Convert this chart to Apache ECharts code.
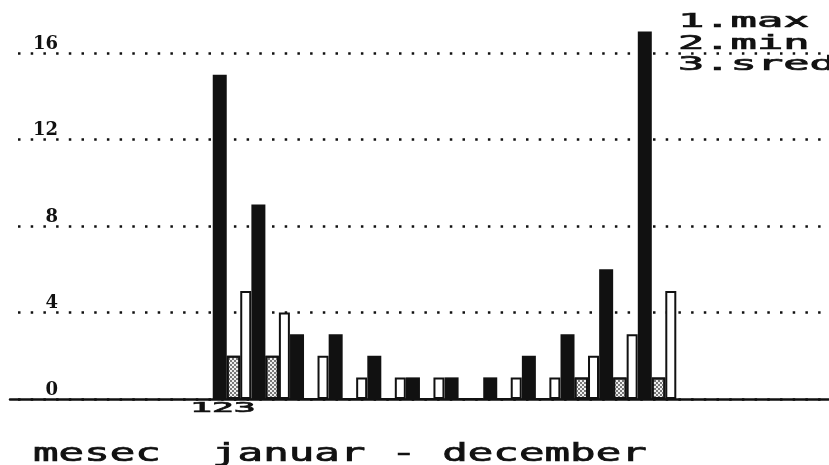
<!DOCTYPE html>
<html>
<head>
<meta charset="utf-8">
<script src="https://cdn.jsdelivr.net/npm/echarts@6/dist/echarts.min.js"></script>
<style>
  html, body { margin: 0; padding: 0; background: #fff; }
  #chart { width: 829px; height: 465px; }
</style>
</head>
<body>
<div id="chart"></div>
<script>
// monthly values, januar .. december
const months = [1, 2, 3, 4, 5, 6, 7, 8, 9, 10, 11, 12];
const maxValues = [15, 9, 3, 3, 2, 1, 1, 1, 2, 3, 6, 17];
const minValues = [2, 2, 0, 0, 0, 0, 0, 0, 0, 1, 1, 1];
const sredValues = [5, 4, 2, 1, 1, 1, 0, 1, 1, 2, 3, 5];

const yMax = 16;
const yStep = 4;
const legendLines = ["1.max", "2.min", "3.sred"];
const barNumbers = "123";
const footer = "mesec  januar - december";

const mono = "DejaVu Sans Mono";

let myChart = echarts.init(document.getElementById("chart"));

// pairs [month, value] for the value x axis
const toPoints = (values) => months.map((m, i) => [m, values[i]]);

// stretched "printer" text
function printText(text, x, y, size, stretch) {
  return {
    type: "text",
    x: x,
    y: y,
    scaleX: stretch,
    style: {
      text: text,
      x: 0,
      y: 0,
      fill: "#111",
      stroke: "#111",
      lineWidth: 0.7,
      font: size + "px '" + mono + "'",
      verticalAlign: "middle",
    },
  };
}

myChart.setOption({
  backgroundColor: "#fff",
  animation: false,
  grid: { left: 10, right: 0, top: 53, bottom: 66 },
  xAxis: {
    type: "value",
    min: -4.745,
    max: 16.45,
    axisLine: { show: true, lineStyle: { color: "#111", width: 2.5 } },
    axisTick: { show: false },
    axisLabel: { show: false },
    splitLine: { show: false },
  },
  yAxis: {
    type: "value",
    min: 0,
    max: yMax,
    interval: yStep,
    axisLine: { show: false },
    axisTick: { show: false },
    axisLabel: {
      inside: true,
      margin: 48,
      align: "right",
      verticalAlign: "bottom",
      color: "#111",
      fontFamily: "DejaVu Serif",
      fontWeight: "bold",
      fontSize: 18,
    },
    splitLine: {
      lineStyle: { color: "#111", width: 2.5, type: [2.5, 10.2], dashOffset: 4.7 },
    },
  },
  series: [
    {
      name: "max",
      type: "bar",
      barWidth: 14,
      barGap: "0%",
      clip: false,
      itemStyle: { color: "#111" },
      data: toPoints(maxValues),
    },
    {
      name: "min",
      type: "bar",
      barWidth: 13.5,
      barGap: "0%",
      clip: false,
      itemStyle: {
        color: "#eeeeee",
        borderColor: "#111",
        borderWidth: 2,
        decal: {
          symbol: "rect",
          symbolSize: 1,
          color: "#777",
          dashArrayX: [[2, 2], [0, 2, 2, 0]],
          dashArrayY: [2, 0],
        },
      },
      data: toPoints(minValues),
    },
    {
      name: "sred",
      type: "bar",
      barWidth: 11,
      barGap: "0%",
      clip: false,
      itemStyle: { color: "#fff", borderColor: "#111", borderWidth: 2 },
      data: toPoints(sredValues),
    },
  ],
  graphic: [
    printText(legendLines[0], 678, 22, 19, 2.3),
    printText(legendLines[1], 678, 44, 19, 2.3),
    printText(legendLines[2], 678, 65, 19, 2.3),
    printText(barNumbers, 190, 408, 14, 2.6),
    printText(footer, 33, 455, 24, 1.77),
  ],
});
</script>
</body>
</html>
